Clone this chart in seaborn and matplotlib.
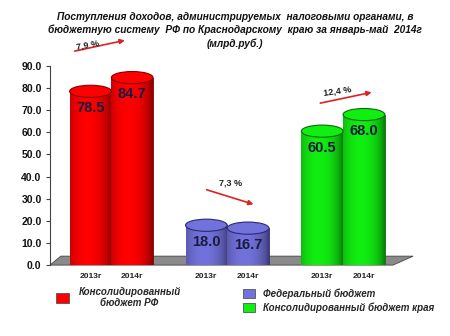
import numpy as np
import pandas as pd
import matplotlib
matplotlib.use("Agg")
import matplotlib.pyplot as plt
import seaborn as sns
from matplotlib.patches import Ellipse, Polygon, Patch
from matplotlib.colors import to_rgb

groups = ["Консолидированный бюджет РФ", "Федеральный бюджет", "Консолидированный бюджет края"]
years = ["2013г", "2014г"]
values_2013 = [78.5, 18.0, 60.5]
values_2014 = [84.7, 16.7, 68.0]
changes = ["7,9 %", "7,3 %", "12,4 %"]
colors = ["#ff0000", "#7272dc", "#11ee11"]
edges = ["#880000", "#2a2a70", "#0a6a0a"]
legend_labels = ["Консолидированный\nбюджет РФ", "Федеральный бюджет", "Консолидированный бюджет края"]

df = pd.DataFrame({
    "group": groups * 2,
    "year": [years[0]] * 3 + [years[1]] * 3,
    "value": values_2013 + values_2014,
})

sns.set_theme(style="white")
plt.rcParams["font.family"] = ["Liberation Sans", "DejaVu Sans"]

fig = plt.figure(figsize=(4.5, 3.36), dpi=100)
ax = fig.add_axes([0.111, 0.211, 0.811, 0.593])

sns.barplot(data=df, x="group", y="value", hue="year", order=groups, hue_order=years,
            width=0.72, ax=ax, legend=False, errorbar=None, saturation=1)

ax.set_ylim(0, 90)
ax.set_xlim(-0.53, 2.62)

# floor
floor = Polygon([[0.0, 0.0], [0.94, 0.0], [0.995, 0.045], [0.03, 0.045]], closed=True,
                transform=ax.transAxes, facecolor="#8a8a8a", edgecolor="#444444", lw=0.6,
                zorder=0.5, clip_on=False)
ax.add_patch(floor)

bars = [p for p in ax.patches if p is not floor]
centers, labels = [], []
xs = np.linspace(0, 1, 64)
shade = 0.55 + 0.45 * np.clip(np.sin(np.pi * (xs * 0.9 + 0.12)), 0, 1) ** 0.6
for bar in bars:
    x = bar.get_x() + bar.get_width() / 2
    gi = int(round(x))
    h = bar.get_height()
    base = np.array(to_rgb(colors[gi]))
    bar.set_facecolor(colors[gi])
    bar.set_edgecolor(edges[gi])
    bar.set_linewidth(0.6)
    bar.set_zorder(2)
    grad = np.clip(base[None, None, :] * shade[None, :, None], 0, 1)
    im = ax.imshow(grad, extent=[bar.get_x(), bar.get_x() + bar.get_width(), 0, h],
                   aspect="auto", zorder=2.1, interpolation="bilinear")
    im.set_clip_path(bar)
    ax.add_patch(Ellipse((x, h), bar.get_width(), 5.5, facecolor=colors[gi],
                         edgecolor=edges[gi], lw=0.8, zorder=3))
    ax.text(x, h - 7.5, f"{h:.1f}", ha="center", va="center", fontsize=10.5, fontweight="bold",
            color="#1a1a40", zorder=4)
    centers.append(x)
    labels.append(years[0] if x < gi else years[1])

ax.set_xlim(-0.53, 2.62)
ax.set_ylim(0, 90)

order = np.argsort(centers)
ax.set_xticks([centers[i] for i in order])
ax.set_xticklabels([labels[i] for i in order], fontsize=6, fontweight="bold", color="#222222")
ax.tick_params(axis="x", length=0, pad=6)

ax.set_yticks(np.arange(0, 91, 10))
ax.set_yticklabels([f"{v:.1f}" for v in np.arange(0, 91, 10)], fontsize=7.5, fontweight="bold", color="#111111")
ax.tick_params(axis="y", length=3, width=0.8, color="#444444", direction="out", left=True, pad=3)
ax.set_xlabel("")
ax.set_ylabel("")
for s in ["top", "right", "bottom"]:
    ax.spines[s].set_visible(False)
ax.spines["left"].set_color("#444444")
ax.spines["left"].set_linewidth(0.8)

arrows = [((-0.34, 96.4), (0.14, 101.8), (-0.2, 99.5), 10),
          ((0.80, 34.4), (1.25, 27.1), (1.03, 37.0), 0),
          ((1.78, 72.9), (2.27, 78.3), (1.95, 78.5), 8)]
for (start, end, lab, rot), txt in zip(arrows, changes):
    ax.annotate("", xy=end, xytext=start, annotation_clip=False,
                arrowprops=dict(arrowstyle="-|>", color="#dd2222", lw=1.2, mutation_scale=7))
    ax.text(lab[0], lab[1], txt, ha="center", va="center", fontsize=6.5, fontweight="bold",
            color="#222222", rotation=rot, clip_on=False)

fig.text(0.522, 0.965,
         "Поступления доходов, администрируемых  налоговыми органами, в\n"
         "бюджетную систему  РФ по Краснодарскому  краю за январь-май  2014г\n"
         "(млрд.руб.)",
         ha="center", va="top", fontsize=7.3, fontweight="bold", fontstyle="italic",
         linespacing=1.35, color="#111111")

prop = dict(size=7, weight="bold", style="italic")
h1 = [Patch(facecolor=colors[0], edgecolor="#555555", lw=0.6)]
leg1 = fig.legend(h1, [legend_labels[0]], loc="center left", bbox_to_anchor=(0.105, 0.115),
                  frameon=False, prop=prop, handlelength=1.3, handleheight=1.1, handletextpad=1.0)
for t in leg1.get_texts():
    t.set_multialignment("center")
h2 = [Patch(facecolor=colors[1], edgecolor="#555555", lw=0.6),
      Patch(facecolor=colors[2], edgecolor="#555555", lw=0.6)]
leg2 = fig.legend(h2, legend_labels[1:], loc="center left", bbox_to_anchor=(0.52, 0.105),
                  frameon=False, prop=prop, handlelength=1.3, handleheight=1.1, handletextpad=0.8,
                  labelspacing=0.35)

fig.savefig("out.png", dpi=100, facecolor="white")
